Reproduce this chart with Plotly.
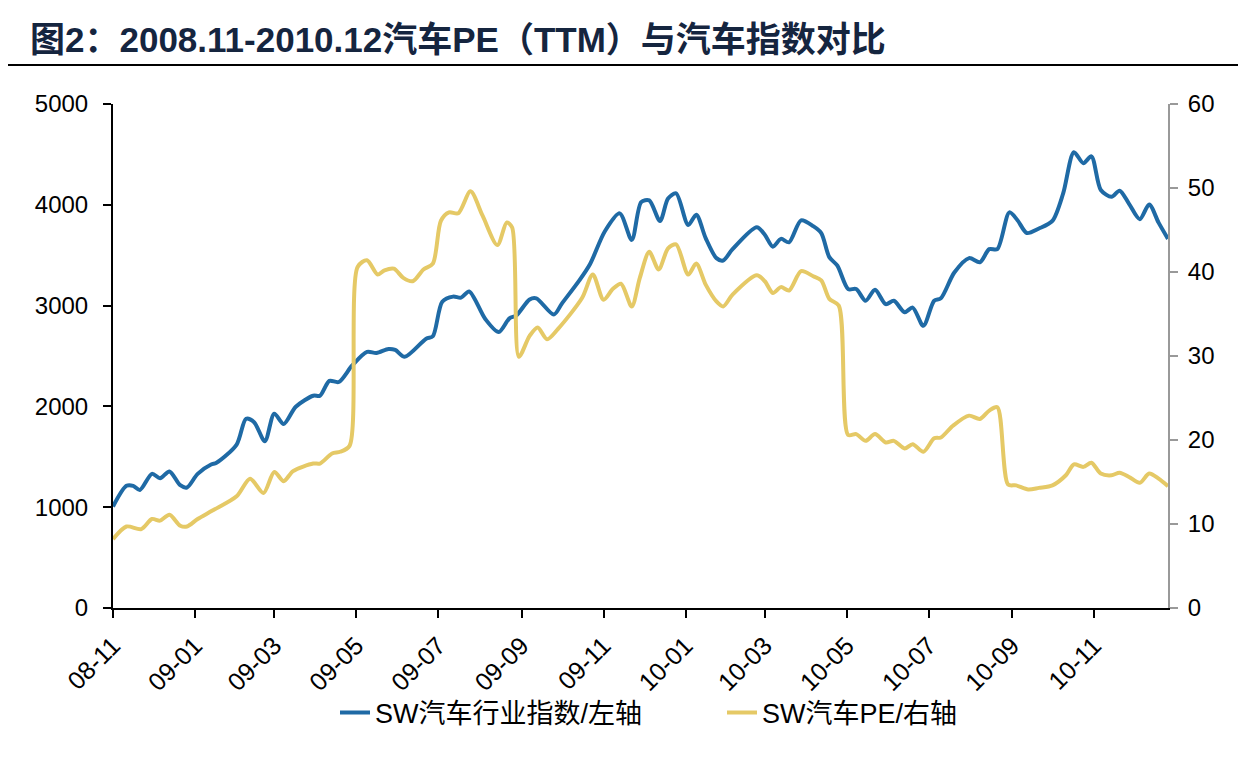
import plotly.graph_objects as go

# SW汽车行业指数 (left axis)
index_dates = [
    "2008-11-01", "2008-11-11", "2008-11-16", "2008-11-21", "2008-11-30", "2008-12-06", "2008-12-13",
    "2008-12-21", "2008-12-26", "2009-01-03", "2009-01-13", "2009-01-17", "2009-02-01", "2009-02-08",
    "2009-02-14", "2009-02-22", "2009-03-01", "2009-03-08", "2009-03-17", "2009-03-30", "2009-04-04",
    "2009-04-11", "2009-04-18", "2009-04-28", "2009-05-09", "2009-05-16", "2009-05-25", "2009-05-30",
    "2009-06-06", "2009-06-22", "2009-06-27", "2009-07-04", "2009-07-12", "2009-07-18", "2009-07-24",
    "2009-08-05", "2009-08-15", "2009-08-23", "2009-08-28", "2009-09-07", "2009-09-12", "2009-09-25",
    "2009-10-01", "2009-10-14", "2009-10-22", "2009-11-02", "2009-11-13", "2009-11-22", "2009-11-29",
    "2009-12-05", "2009-12-13", "2009-12-19", "2009-12-25", "2010-01-03", "2010-01-09", "2010-01-16",
    "2010-01-24", "2010-01-29", "2010-02-05", "2010-02-23", "2010-03-01", "2010-03-07", "2010-03-13",
    "2010-03-19", "2010-03-28", "2010-04-06", "2010-04-12", "2010-04-18", "2010-04-24", "2010-05-02",
    "2010-05-08", "2010-05-15", "2010-05-22", "2010-05-30", "2010-06-05", "2010-06-13", "2010-06-19",
    "2010-06-27", "2010-07-05", "2010-07-10", "2010-07-20", "2010-07-31", "2010-08-08", "2010-08-15",
    "2010-08-21", "2010-08-30", "2010-09-05", "2010-09-12", "2010-09-21", "2010-10-01", "2010-10-09",
    "2010-10-17", "2010-10-24", "2010-10-30", "2010-11-06", "2010-11-14", "2010-11-20", "2010-11-27",
    "2010-12-05", "2010-12-12", "2010-12-19", "2010-12-26",
]
index_values = [
    1007, 1212, 1212, 1171, 1331, 1287, 1355,
    1218, 1195, 1331, 1423, 1440, 1621, 1877,
    1843, 1655, 1928, 1826, 1997, 2106, 2106,
    2253, 2242, 2406, 2540, 2530, 2570, 2560,
    2492, 2672, 2696, 3038, 3089, 3079, 3140,
    2867, 2737, 2874, 2901, 3061, 3072, 2911,
    3020, 3250, 3413, 3737, 3915, 3652, 4027,
    4044, 3840, 4062, 4113, 3799, 3901, 3669,
    3471, 3447, 3560, 3778, 3703, 3584, 3662,
    3628, 3846, 3788, 3720, 3481, 3396, 3164,
    3164, 3048, 3157, 3014, 3048, 2935, 2980,
    2799, 3048, 3072, 3328, 3471, 3430, 3560,
    3560, 3925, 3847, 3720, 3765, 3840, 4113,
    4522, 4413, 4481, 4147, 4079, 4140, 4010,
    3857, 4003, 3823, 3662,
]

# SW汽车PE (right axis)
pe_dates = [
    "2008-11-01", "2008-11-11", "2008-11-22", "2008-11-30", "2008-12-06", "2008-12-13", "2008-12-21",
    "2008-12-26", "2009-01-03", "2009-01-14", "2009-02-01", "2009-02-11", "2009-02-21", "2009-03-01",
    "2009-03-08", "2009-03-15", "2009-03-30", "2009-04-04", "2009-04-13", "2009-04-19", "2009-04-26",
    "2009-05-02", "2009-05-09", "2009-05-17", "2009-05-22", "2009-05-29", "2009-06-05", "2009-06-12",
    "2009-06-20", "2009-06-27", "2009-07-03", "2009-07-09", "2009-07-16", "2009-07-25", "2009-08-03",
    "2009-08-14", "2009-08-21", "2009-08-25", "2009-08-30", "2009-09-07", "2009-09-13", "2009-09-20",
    "2009-09-28", "2009-10-16", "2009-10-24", "2009-11-01", "2009-11-08", "2009-11-14", "2009-11-22",
    "2009-11-28", "2009-12-05", "2009-12-12", "2009-12-19", "2009-12-25", "2010-01-03", "2010-01-09",
    "2010-01-16", "2010-01-24", "2010-01-29", "2010-02-05", "2010-02-23", "2010-03-01", "2010-03-07",
    "2010-03-13", "2010-03-19", "2010-03-28", "2010-04-06", "2010-04-12", "2010-04-18", "2010-04-25",
    "2010-05-02", "2010-05-08", "2010-05-15", "2010-05-22", "2010-05-30", "2010-06-05", "2010-06-13",
    "2010-06-19", "2010-06-27", "2010-07-05", "2010-07-10", "2010-07-19", "2010-07-31", "2010-08-08",
    "2010-08-15", "2010-08-21", "2010-08-29", "2010-09-04", "2010-09-13", "2010-09-21", "2010-10-01",
    "2010-10-11", "2010-10-17", "2010-10-24", "2010-10-30", "2010-11-06", "2010-11-14", "2010-11-20",
    "2010-11-27", "2010-12-05", "2010-12-12", "2010-12-19", "2010-12-26",
]
pe_values = [
    8.2, 9.7, 9.4, 10.6, 10.4, 11.1, 9.8,
    9.7, 10.6, 11.6, 13.3, 15.4, 13.7, 16.2,
    15.1, 16.3, 17.2, 17.2, 18.4, 18.6, 19.3,
    40.6, 41.4, 39.7, 40.2, 40.4, 39.3, 38.9,
    40.3, 41.0, 46.1, 47.1, 47.0, 49.6, 46.7,
    43.2, 45.9, 45.3, 29.9, 32.4, 33.4, 32.0,
    33.2, 36.9, 39.7, 36.7, 38.0, 38.6, 35.9,
    39.3, 42.4, 40.3, 42.8, 43.3, 39.7, 41.0,
    38.5, 36.5, 35.9, 37.3, 39.6, 38.9, 37.5,
    38.2, 37.8, 40.1, 39.5, 39.0, 36.8, 36.0,
    20.6, 20.7, 19.9, 20.7, 19.7, 19.9, 19.0,
    19.5, 18.6, 20.2, 20.3, 21.7, 22.9, 22.5,
    23.5, 23.9, 14.7, 14.6, 14.1, 14.3, 14.6,
    15.8, 17.1, 16.8, 17.3, 16.0, 15.8, 16.1,
    15.6, 14.9, 16.0, 15.4, 14.5,
]

title_text = "图2：2008.11-2010.12汽车PE（TTM）与汽车指数对比"
series_names = ["SW汽车行业指数/左轴", "SW汽车PE/右轴"]
left_ticks = [0, 1000, 2000, 3000, 4000, 5000]
right_ticks = [0, 10, 20, 30, 40, 50, 60]

BLUE = "#1f6aa5"
YELLOW = "#e5c966"
FONT = "Liberation Sans, Arial, Noto Sans CJK SC, sans-serif"
CJK = "Liberation Sans, Noto Sans CJK SC, sans-serif"

# page body has an 8px margin, so the figure is offset by (8, 8)
W, H = 1238, 761
PL, PR, PT, PB = 113, 1168, 104, 608  # target plot area in page pixels

fig = go.Figure()
fig.add_trace(go.Scatter(
    x=index_dates, y=index_values, name=series_names[0], mode="lines",
    line=dict(color=BLUE, width=4, shape="spline", smoothing=0.8), yaxis="y",
))
fig.add_trace(go.Scatter(
    x=pe_dates, y=pe_values, name=series_names[1], mode="lines",
    line=dict(color=YELLOW, width=4, shape="spline", smoothing=0.8), yaxis="y2",
))

pw, ph = PR - PL, PB - PT
fig.update_layout(
    width=W, height=H,
    margin=dict(l=PL - 8, r=W + 8 - PR, t=PT - 8, b=H + 8 - PB, pad=0),
    paper_bgcolor="white", plot_bgcolor="white",
    font=dict(family=FONT, size=24, color="black"),
    title=dict(
        text="<b>" + title_text + "</b>",
        font=dict(family=CJK, size=35, color="#15253f"),
        xref="container", yref="container", x=22 / W, xanchor="left",
        y=1 - 32 / H, yanchor="middle",
    ),
    xaxis=dict(
        type="date", range=["2008-11-01", "2010-12-26"],
        tick0="2008-11-01", dtick="M2", tickformat="%y-%m", tickangle=-45,
        showgrid=False, zeroline=False, showline=True, linecolor="black", linewidth=2,
        ticks="outside", ticklen=8, tickwidth=2, tickcolor="black",
        tickfont=dict(size=25), ticklabelstandoff=3,
    ),
    yaxis=dict(
        range=[0, 5000], tickvals=left_ticks, showgrid=False, zeroline=False,
        showline=True, linecolor="black", linewidth=2,
        ticks="outside", ticklen=8, tickwidth=2, tickcolor="black",
        tickfont=dict(size=24), ticklabelstandoff=10,
    ),
    yaxis2=dict(
        range=[0, 60], tickvals=right_ticks, overlaying="y", side="right",
        showgrid=False, zeroline=False, showline=True, linecolor="#999999", linewidth=2,
        ticks="outside", ticklen=8, tickwidth=2, tickcolor="#999999",
        tickfont=dict(size=24), ticklabelstandoff=5,
    ),
    legend=dict(
        orientation="h", x=(722 - PL) / pw, xanchor="center",
        y=(PB - 713) / ph, yanchor="middle",
        font=dict(family=CJK, size=27), entrywidth=342, bgcolor="rgba(0,0,0,0)",
    ),
    shapes=[dict(
        type="line", xref="paper", yref="paper",
        x0=(8 - PL) / pw, x1=(1246 - PL) / pw,
        y0=(PB - 65) / ph, y1=(PB - 65) / ph,
        line=dict(color="black", width=2),
    )],
)

fig.write_html("out.html")
